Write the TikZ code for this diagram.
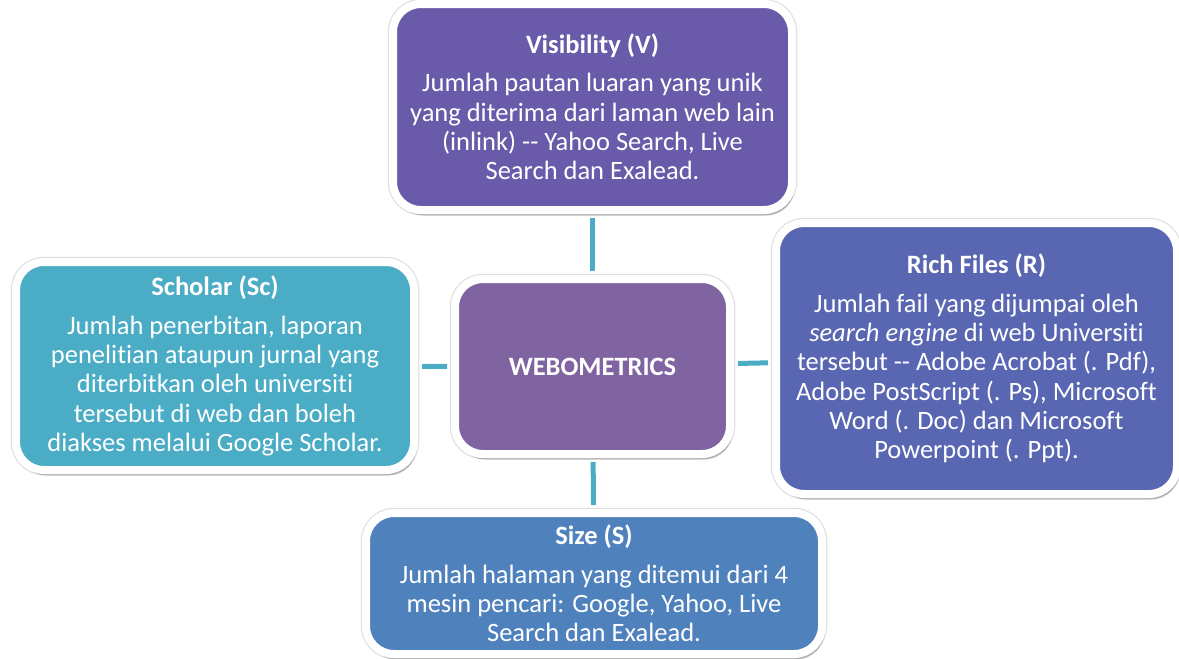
\documentclass[tikz,border=0pt]{standalone}
\usepackage{fontspec}
\setmainfont{Carlito}[Ligatures=NoCommon]
\usetikzlibrary{shadows}

\definecolor{vispurple}{RGB}{106,91,170}
\definecolor{scholarteal}{RGB}{75,172,198}
\definecolor{richblue}{RGB}{89,103,178}
\definecolor{sizeblue}{RGB}{79,129,189}
\definecolor{webpurple}{RGB}{128,100,162}
\definecolor{linkteal}{RGB}{75,172,198}

\begin{document}
\begin{tikzpicture}[x=1pt, y=-1pt]
\tikzstyle{card}=[draw=white, line width=8pt, rounded corners=28pt, text=white, align=center, inner sep=0pt, font=\fontsize{26.5}{29.3}\selectfont, preaction={draw=black, draw opacity=0.12, line width=10.5pt}, drop shadow={shadow xshift=2.5pt, shadow yshift=-5.5pt, fill=black, opacity=0.22}]
\tikzstyle{link}=[draw=linkteal, line width=5pt, shorten <=4pt, shorten >=4pt]

\useasboundingbox (0,0) rectangle (1179,659);

\node[card, fill=webpurple, minimum width=275pt, minimum height=175pt] (web) at (592.5,366.5) {\bfseries WEBOMETRICS};

\node[card, fill=vispurple, minimum width=399pt, minimum height=206pt] (vis) at (592.5,107)
  {{\bfseries Visibility (V)}\\[9pt]Jumlah pautan luaran yang unik\\yang diterima dari laman web lain\\(inlink) -{}- Yahoo Search, Live\\Search dan Exalead.};

\node[card, fill=scholarteal, minimum width=398pt, minimum height=208pt] (sch) at (215,366)
  {{\bfseries Scholar (Sc)}\\[9pt]Jumlah penerbitan, laporan\\penelitian ataupun jurnal yang\\diterbitkan oleh universiti\\tersebut di web dan boleh\\diakses melalui Google Scholar.};

\node[card, fill=richblue, minimum width=401pt, minimum height=271pt] (rich) at (976.5,358.5)
  {{\bfseries Rich Files (R)}\\[9pt]Jumlah fail yang dijumpai oleh\\\textit{search engine} di web Universiti\\tersebut -{}- Adobe Acrobat (. Pdf),\\Adobe PostScript (. Ps), Microsoft\\Word (. Doc) dan Microsoft\\Powerpoint (. Ppt).};

\node[card, fill=sizeblue, minimum width=456pt, minimum height=141pt] (size) at (594,583.5)
  {{\bfseries Size (S)}\\[9pt]Jumlah halaman yang ditemui dari 4\\mesin pencari: Google, Yahoo, Live\\Search dan Exalead.};

% connectors
\draw[link] (web) -- (vis);
\draw[link] (web) -- (sch);
\draw[link] (web) -- (rich);
\draw[link] (web) -- (size);
\end{tikzpicture}
\end{document}
